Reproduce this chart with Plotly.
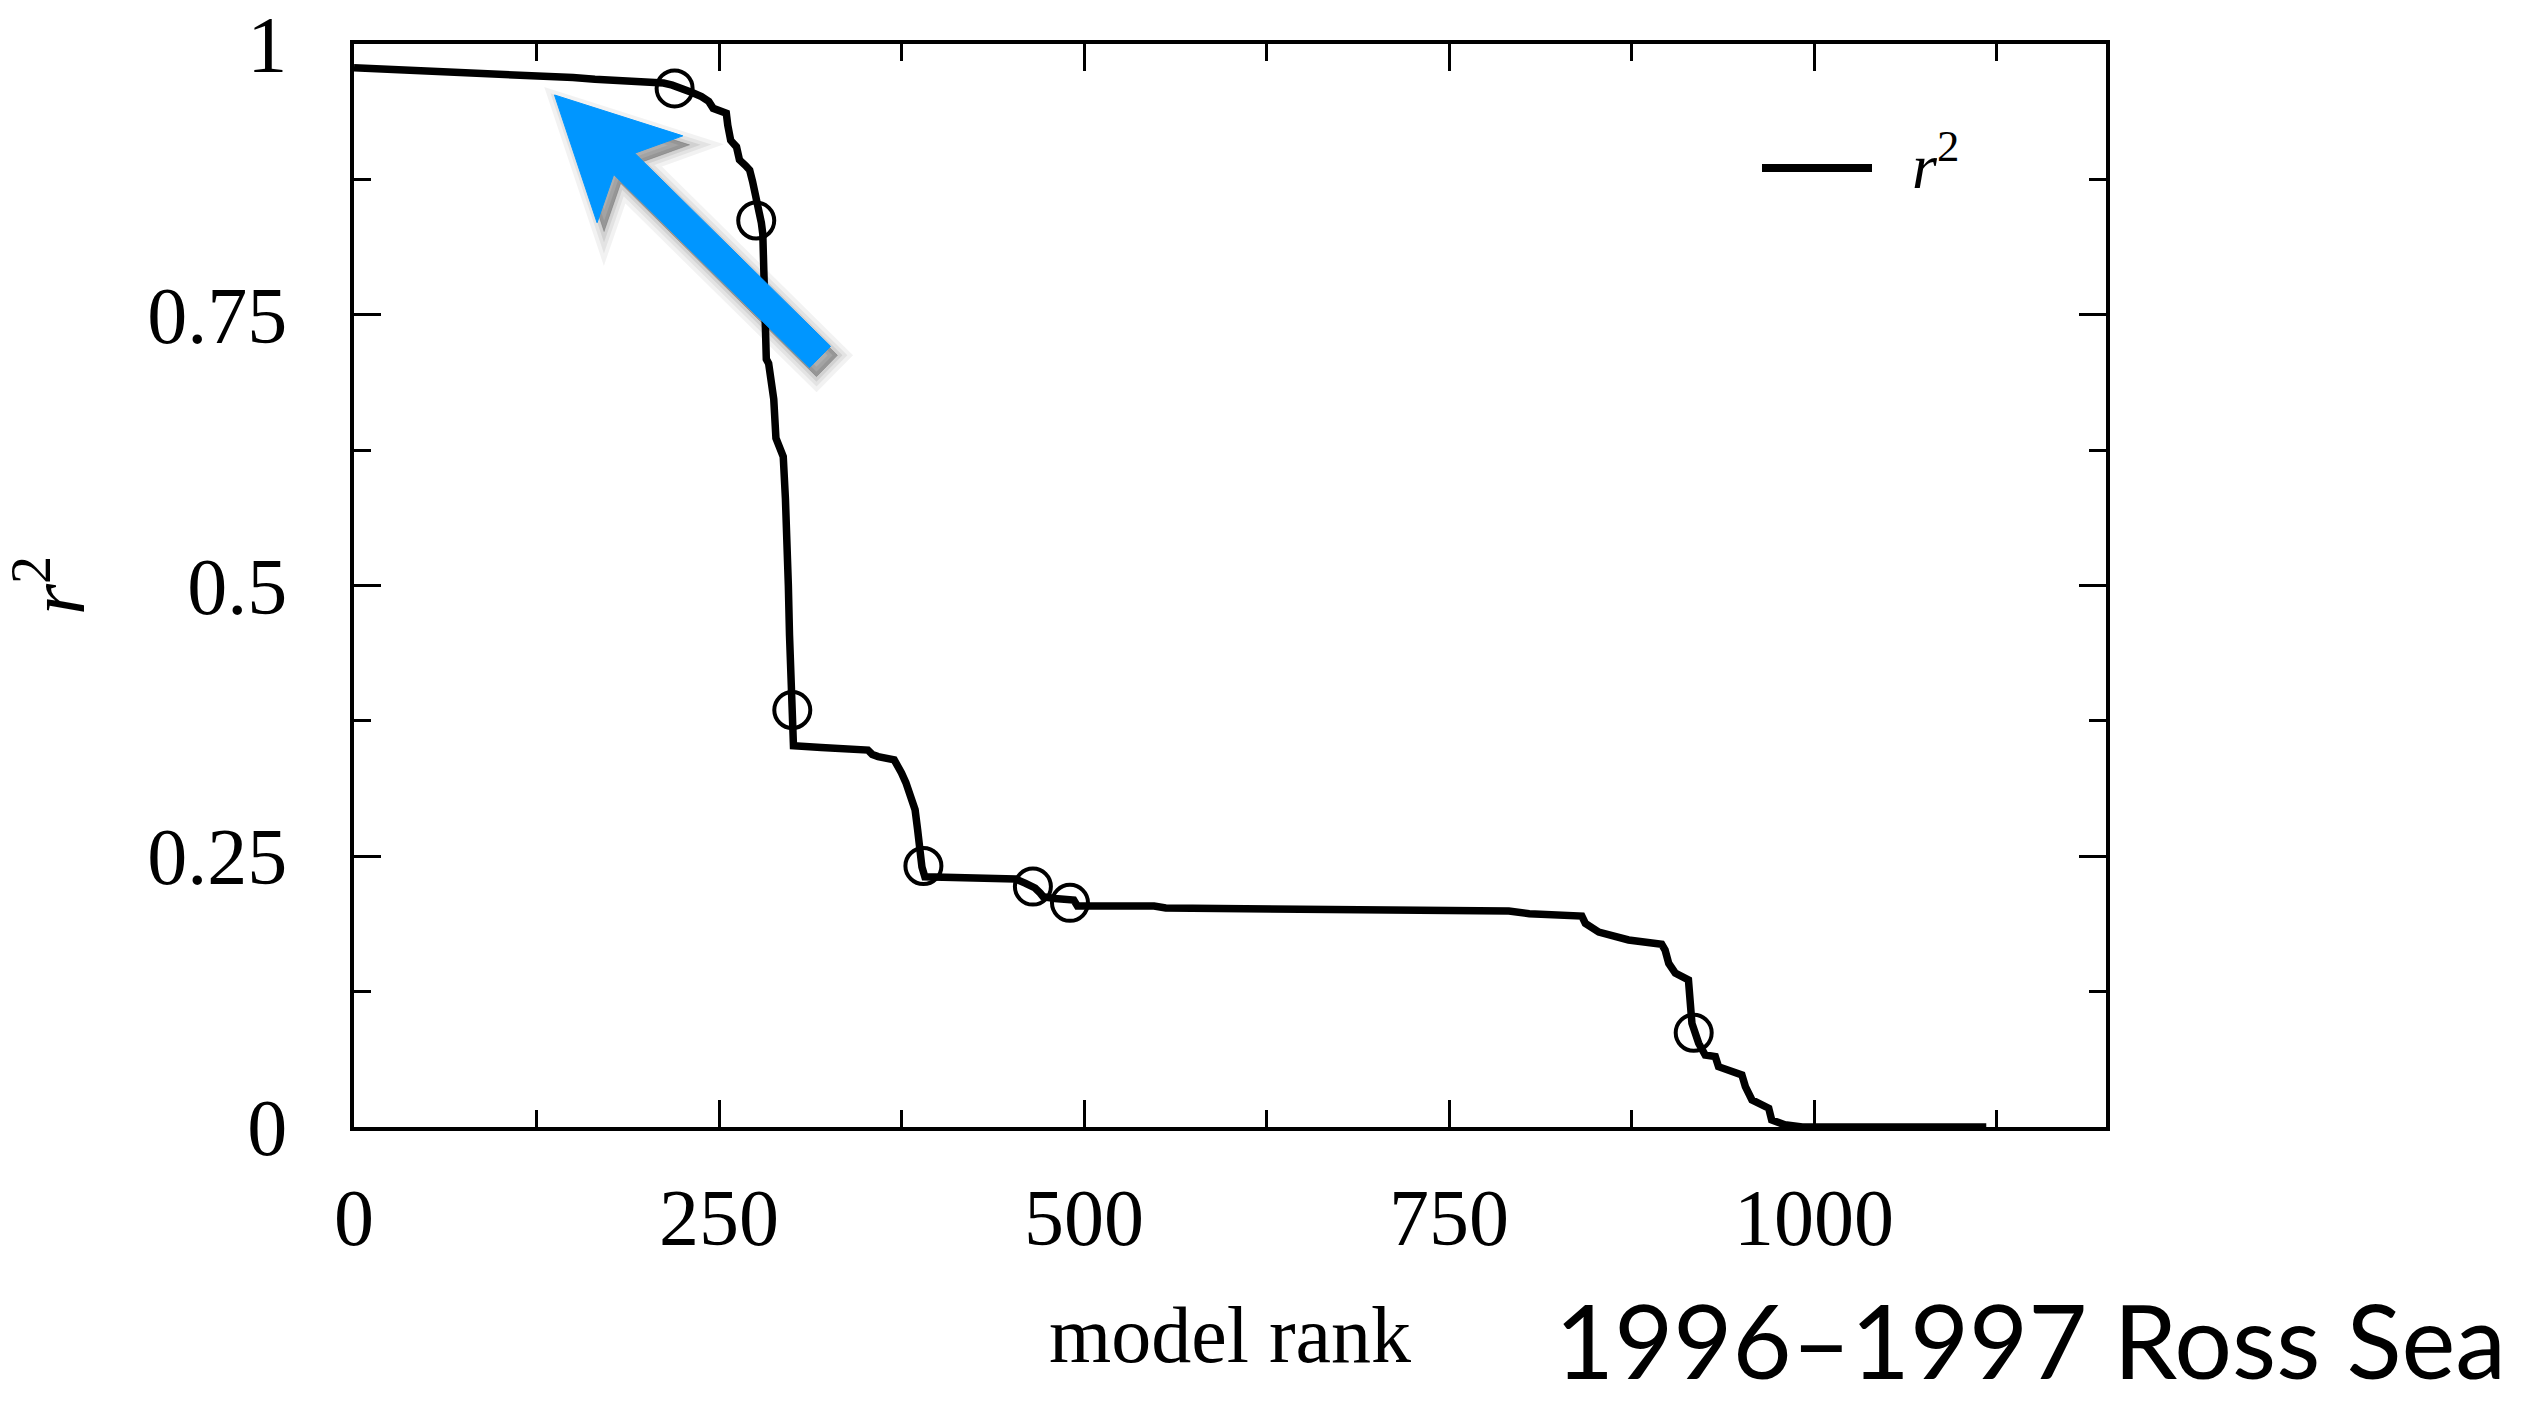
import math
import plotly.graph_objects as go

# ---------------- data ----------------
model_rank = [0, 40, 90, 125, 150, 165, 199, 212, 218, 225, 232, 238, 243, 246, 251, 255,
              256, 258, 262, 264, 268, 271, 273, 276, 278, 279, 280, 280.6, 281.2, 282.4,
              284, 286, 287.5, 289, 292, 294, 295.5, 296.5, 297.5, 298.3, 299.5, 300.5, 301,
              320, 352, 355, 359, 370, 373, 375, 378, 380.5, 384.3, 386, 387, 389, 391,
              420, 453, 460, 466.5, 470, 472, 480, 493, 495.5, 548, 556, 650, 750, 791,
              805, 841, 843.4, 852.6, 873, 895.7, 898, 900.5, 905, 914, 916.4, 921, 925.5,
              932.4, 934.6, 943.6, 950.6, 953, 957.5, 969, 971, 980, 992, 1118]
r2_values = [0.978, 0.976, 0.9735, 0.9714, 0.969, 0.9674, 0.9652, 0.964, 0.962, 0.959, 0.955,
             0.9514, 0.947, 0.9406, 0.937, 0.936, 0.925, 0.911, 0.905, 0.893, 0.888, 0.8836,
             0.873, 0.856, 0.845, 0.835, 0.8246, 0.78, 0.742, 0.709, 0.705, 0.686, 0.672,
             0.636, 0.628, 0.619, 0.58, 0.55, 0.50, 0.454, 0.40, 0.37, 0.352, 0.3505, 0.348,
             0.344, 0.342, 0.339, 0.333, 0.327, 0.318, 0.308, 0.293, 0.275, 0.256, 0.24,
             0.231, 0.2305, 0.229, 0.225, 0.2207, 0.216, 0.2127, 0.211, 0.2096, 0.204, 0.204,
             0.2022, 0.201, 0.2005, 0.1994, 0.197, 0.1948, 0.188, 0.180, 0.1727, 0.1687,
             0.1634, 0.151, 0.142, 0.1358, 0.0957, 0.0773, 0.0665, 0.065, 0.0557, 0.0511,
             0.048, 0.0373, 0.025, 0.0173, 0.0065, 0.002, 0.0, 0.0]

highlight_rank = [219.6, 275.5, 300.2, 390.0, 465.0, 490.4, 917.6]
highlight_r2 = [0.959, 0.837, 0.385, 0.241, 0.222, 0.207, 0.087]

series_name = "<i>r</i><sup>2</sup>"
x_title = "model rank"
y_title = "<i>r</i><sup>2</sup>"
caption = "1996\u20131997 Ross Sea"

x_range = [0, 1200]
y_range = [0, 1]

# ---------------- layout geometry ----------------
W, H = 2525, 1403
ML, MR, MT, MB = 354, 419, 44, 276
PW = W - ML - MR
PH = H - MT - MB

SERIF = "Liberation Serif"
BLUE = "rgb(0,150,255)"


def px_to_paper_x(px):
    return (px - ML) / PW


def px_to_paper_y(py):
    return 1 - (py - MT) / PH


# pointer arrow drawn on top of the chart (page pixels)
ARROW_TIP = (554.5, 95.0)
ARROW_TAIL = (820.0, 357.0)
ARROW_SHAFT_HALF = 15
ARROW_HEAD_HALF = 61
ARROW_HEAD_LEN = 120
ARROW_NOTCH = 98


def arrow_path(dx=0.0, dy=0.0):
    tx, ty = ARROW_TIP
    vx, vy = ARROW_TAIL[0] - tx, ARROW_TAIL[1] - ty
    length = math.hypot(vx, vy)
    ux, uy = vx / length, vy / length          # from tip towards tail
    px_, py_ = -uy, ux                          # perpendicular
    pts_local = [(0, 0), (ARROW_HEAD_LEN, ARROW_HEAD_HALF), (ARROW_NOTCH, ARROW_SHAFT_HALF),
                 (length, ARROW_SHAFT_HALF), (length, -ARROW_SHAFT_HALF),
                 (ARROW_NOTCH, -ARROW_SHAFT_HALF), (ARROW_HEAD_LEN, -ARROW_HEAD_HALF)]
    parts = []
    for i, (a, b) in enumerate(pts_local):
        X = tx + dx + a * ux + b * px_
        Y = ty + dy + a * uy + b * py_
        parts.append(("M" if i == 0 else "L") + f"{px_to_paper_x(X):.5f},{px_to_paper_y(Y):.5f}")
    return " ".join(parts) + " Z"


fig = go.Figure()

fig.add_trace(go.Scatter(
    x=model_rank, y=r2_values, mode="lines", name=series_name,
    line=dict(color="black", width=7.5), showlegend=False,
))
fig.add_trace(go.Scatter(
    x=highlight_rank, y=highlight_r2, mode="markers", showlegend=False,
    marker=dict(symbol="circle-open", size=36, color="black",
                line=dict(color="black", width=4)),
    cliponaxis=False,
))

axis_common = dict(
    showline=True, linewidth=3.5, linecolor="black", mirror="ticks",
    ticks="inside", ticklen=27, tickwidth=3, tickcolor="black",
    showgrid=False, zeroline=False, automargin=False,
    tickfont=dict(family=SERIF, size=80, color="black"),
)

fig.update_xaxes(
    range=x_range, tickmode="linear", tick0=0, dtick=250,
    minor=dict(ticks="inside", ticklen=17, tickwidth=3, tickcolor="black",
               dtick=125, tick0=0, showgrid=False),
    ticklabelstandoff=18,
    title=dict(text=x_title, font=dict(family=SERIF, size=80, color="black"), standoff=46),
    **axis_common,
)
fig.update_yaxes(
    range=y_range, tickmode="linear", tick0=0, dtick=0.25,
    minor=dict(ticks="inside", ticklen=17, tickwidth=3, tickcolor="black",
               dtick=0.125, tick0=0, showgrid=False),
    ticklabelstandoff=47,
    title=dict(text=y_title, font=dict(family=SERIF, size=80, color="black"), standoff=58),
    **axis_common,
)

shapes = []
# soft drop shadow (several translucent layers)
for lw, a in [(22, 0.05), (14, 0.06), (7, 0.08), (1, 0.12)]:
    shapes.append(dict(
        type="path", xref="paper", yref="paper", path=arrow_path(7, 9),
        fillcolor=f"rgba(0,0,0,{a})", line=dict(color=f"rgba(0,0,0,{a})", width=lw),
        layer="above",
    ))
shapes.append(dict(
    type="path", xref="paper", yref="paper", path=arrow_path(),
    fillcolor=BLUE, line=dict(color=BLUE, width=1), layer="above",
))
# legend sample line
shapes.append(dict(
    type="line", xref="paper", yref="paper",
    x0=px_to_paper_x(1762), x1=px_to_paper_x(1872),
    y0=px_to_paper_y(168), y1=px_to_paper_y(168),
    line=dict(color="black", width=8),
))

annotations = [
    # legend label
    dict(x=px_to_paper_x(1910), y=px_to_paper_y(162), xref="paper", yref="paper",
         xanchor="left", yanchor="middle", showarrow=False, text=series_name,
         font=dict(family=SERIF, size=64, color="black")),
    # caption
    dict(x=px_to_paper_x(2508), y=px_to_paper_y(1403), xref="paper", yref="paper",
         xanchor="right", yanchor="bottom", showarrow=False, text=caption,
         font=dict(family="Lato", size=102, color="black")),
]

fig.update_layout(
    width=W, height=H,
    margin=dict(l=ML, r=MR, t=MT, b=MB, pad=0),
    paper_bgcolor="white", plot_bgcolor="white",
    showlegend=False,
    annotations=annotations, shapes=shapes,
)

fig.write_html("out.html")
